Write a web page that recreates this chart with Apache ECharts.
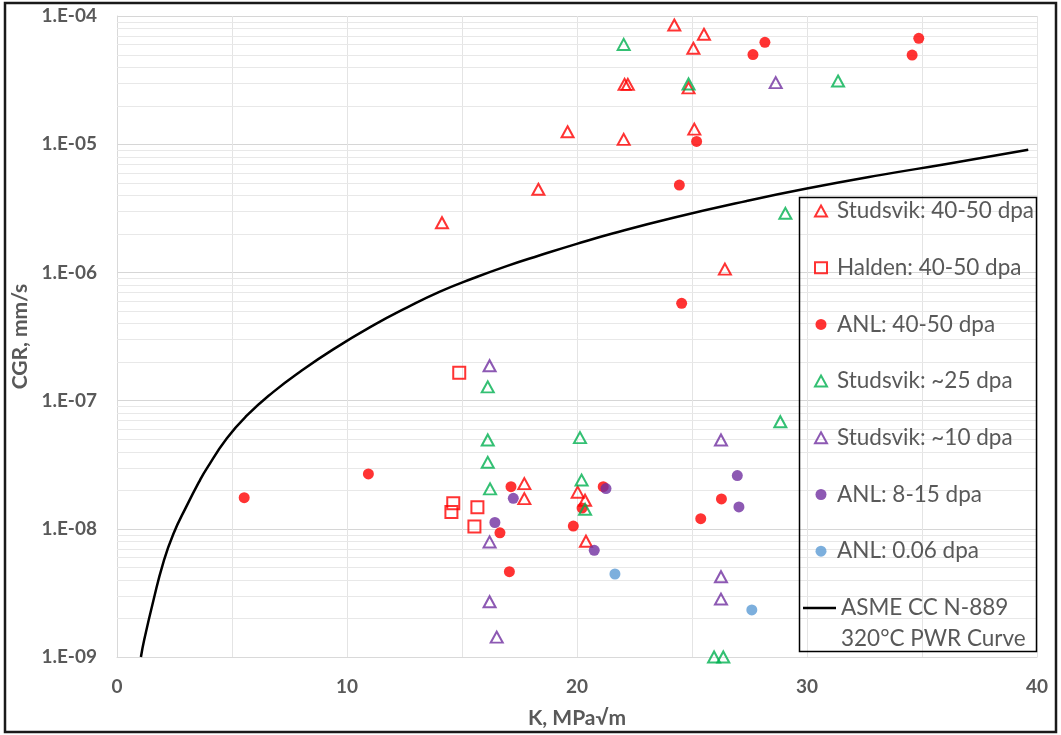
<!DOCTYPE html>
<html>
<head>
<meta charset="utf-8">
<style>
  html, body { margin: 0; padding: 0; background: #fff; }
  #chart { width: 1061px; height: 735px; }
</style>
<script src="https://cdn.jsdelivr.net/npm/echarts@6/dist/echarts.min.js"></script>
</head>
<body>
<div id="chart"></div>
<script>
// Crack growth rate (mm/s) against stress intensity K (MPa√m), pairs are [K, CGR]
const studsvik4050 = [
  [24.23, 8.5e-5], [25.52, 7.2e-5], [25.06, 5.6e-5], [22.07, 2.93e-5], [22.21, 2.93e-5],
  [24.85, 2.75e-5], [19.59, 1.25e-5], [25.10, 1.31e-5], [22.03, 1.09e-5], [18.32, 4.45e-6],
  [14.13, 2.44e-6], [26.43, 1.06e-6], [17.71, 2.25e-8], [17.71, 1.72e-8], [20.03, 1.93e-8],
  [20.35, 1.67e-8], [20.39, 8.0e-9]
];
const halden4050 = [
  [14.88, 1.65e-7], [14.62, 1.58e-8], [14.54, 1.35e-8], [15.67, 1.47e-8], [15.54, 1.04e-8]
];
const anl4050 = [
  [28.17, 6.23e-5], [27.65, 5.0e-5], [34.86, 6.7e-5], [34.57, 4.96e-5], [25.20, 1.05e-5],
  [24.45, 4.8e-6], [24.55, 5.74e-7], [5.53, 1.75e-8], [10.93, 2.68e-8], [17.13, 2.13e-8],
  [21.14, 2.13e-8], [20.22, 1.45e-8], [19.84, 1.05e-8], [16.65, 9.3e-9], [17.06, 4.63e-9],
  [26.28, 1.71e-8], [25.38, 1.2e-8]
];
const studsvik25 = [
  [22.03, 6.0e-5], [24.85, 2.95e-5], [31.35, 3.11e-5], [29.06, 2.89e-6], [16.12, 1.28e-7],
  [28.84, 6.84e-8], [16.12, 4.93e-8], [20.13, 5.14e-8], [16.12, 3.3e-8], [16.22, 2.05e-8],
  [20.20, 2.4e-8], [20.35, 1.42e-8], [25.96, 1.0e-9], [26.36, 1.0e-9]
];
const studsvik10 = [
  [28.64, 3.02e-5], [16.20, 1.87e-7], [26.26, 4.93e-8], [16.20, 7.9e-9], [16.20, 2.7e-9],
  [16.51, 1.43e-9], [26.26, 4.23e-9], [26.26, 2.83e-9]
];
const anl815 = [
  [26.97, 2.6e-8], [21.26, 2.06e-8], [17.23, 1.73e-8], [16.43, 1.12e-8], [27.04, 1.48e-8],
  [20.75, 6.8e-9]
];
const anl006 = [
  [21.65, 4.44e-9], [27.60, 2.33e-9]
];
// Disposition curve, 320°C PWR
const asmeCurve = [
  [1.04, 1.0e-9], [1.19, 1.38e-9], [1.58, 2.75e-9], [2.01, 5.43e-9], [2.45, 9.12e-9],
  [3.03, 1.51e-8], [3.61, 2.40e-8], [3.90, 2.95e-8], [4.77, 5.06e-8], [5.64, 7.62e-8],
  [6.80, 1.17e-7], [7.96, 1.68e-7], [9.40, 2.51e-7], [11.14, 3.86e-7], [12.60, 5.31e-7],
  [14.04, 7.08e-7], [15.49, 9.0e-7], [16.94, 1.12e-6], [18.39, 1.36e-6], [19.99, 1.67e-6],
  [21.58, 2.02e-6], [24.19, 2.67e-6], [27.38, 3.61e-6], [29.99, 4.51e-6], [33.17, 5.74e-6],
  [36.07, 7.01e-6], [39.62, 9.05e-6]
];

const xTickLabels = ['0', '10', '20', '30', '40'];
const yTickLabels = ['1.E-09', '1.E-08', '1.E-07', '1.E-06', '1.E-05', '1.E-04'];
const yDecades = [-9, -8, -7, -6, -5];
const yMantissas = [2, 3, 4, 5, 6, 7, 8, 9];

const seriesNames = [
  'Studsvik: 40-50 dpa', 'Halden: 40-50 dpa', 'ANL: 40-50 dpa', 'Studsvik: ~25 dpa',
  'Studsvik: ~10 dpa', 'ANL: 8-15 dpa', 'ANL: 0.06 dpa'
];
const curveName = 'ASME CC N-889 320°C PWR Curve';

const RED = '#FF0000', GREEN = '#00B050', PURPLE = '#7030A0', BLUE = '#5B9BD5';
const TEXT = '#595959';
const FONT = 'Lato, "Open Sans", sans-serif';
const X_MIN = 0, X_MAX = 40;

// minor log grid levels (2..9 within each decade)
const minorLevels = [];
yDecades.forEach(function (d) {
  yMantissas.forEach(function (m) { minorLevels.push([X_MIN, m * Math.pow(10, d)]); });
});

function hollow(name, data, symbol, color, size) {
  return {
    name: name, type: 'scatter', data: data, symbol: symbol, symbolSize: size, z: 3,
    itemStyle: { color: 'rgba(255,255,255,0)', borderColor: color, borderWidth: 2 }
  };
}
function filled(name, data, color) {
  return {
    name: name, type: 'scatter', data: data, symbol: 'circle', symbolSize: 11, z: 3,
    itemStyle: { color: color, borderWidth: 0 }
  };
}

const legendText = { color: TEXT, fontSize: 22.5, fontFamily: FONT, lineHeight: 24, padding: [0, 0, 0, 5] };

const chart = echarts.init(document.getElementById('chart'), null, { renderer: 'canvas' });
chart.setOption({
  animation: false,
  backgroundColor: '#ffffff',
  textStyle: { fontFamily: FONT },
  grid: { left: 117, right: 24, top: 16, bottom: 78, containLabel: false },
  xAxis: {
    type: 'value', min: X_MIN, max: X_MAX, interval: 5,
    name: 'K, MPa√m', nameLocation: 'middle', nameGap: 51,
    nameTextStyle: { color: TEXT, fontSize: 21, fontWeight: 'bold', fontFamily: FONT },
    axisLine: { show: true, lineStyle: { color: '#D9D9D9', width: 1 } },
    axisTick: { show: false },
    axisLabel: {
      color: TEXT, fontSize: 19, fontWeight: 'bold', fontFamily: FONT, margin: 20,
      formatter: function (v) { return v % 10 === 0 ? xTickLabels[v / 10] : ''; }
    },
    splitLine: { show: true, lineStyle: { color: '#E4E4E4', width: 1 } }
  },
  yAxis: {
    type: 'log', logBase: 10, min: 1e-9, max: 1e-4,
    name: 'CGR, mm/s', nameLocation: 'middle', nameGap: 80,
    nameTextStyle: { color: TEXT, fontSize: 21, fontWeight: 'bold', fontFamily: FONT },
    axisLine: { show: true, lineStyle: { color: '#D9D9D9', width: 1 } },
    axisTick: { show: false },
    axisLabel: {
      color: TEXT, fontSize: 19, fontWeight: 'bold', fontFamily: FONT, margin: 20,
      formatter: function (v) {
        const e = Math.round(Math.log10(v));
        return yTickLabels[e + 9] || '';
      }
    },
    splitLine: { show: true, lineStyle: { color: '#D6D6D6', width: 1 } }
  },
  legend: [
    {
      data: seriesNames, orient: 'vertical', left: 814, top: 199, padding: 0,
      itemWidth: 12, itemHeight: 11, itemGap: 32.7, symbolKeepAspect: true,
      textStyle: legendText
    },
    {
      data: [{ name: curveName, icon: 'rect' }], orient: 'vertical', left: 803, top: 561.5, padding: 0,
      itemWidth: 33, itemHeight: 2.5,
      formatter: function () { return '\nASME CC N-889\n320°C PWR Curve'; },
      textStyle: { color: TEXT, fontSize: 22.5, fontFamily: FONT, lineHeight: 31 }
    }
  ],
  graphic: [
    {
      type: 'rect', silent: true, z: 50,
      shape: { x: 799.5, y: 197.5, width: 237, height: 454 },
      style: { fill: 'none', stroke: '#000', lineWidth: 1.5 }
    },
    {
      type: 'rect', silent: true, z: 50,
      shape: { x: 5, y: 3, width: 1051, height: 729 },
      style: { fill: 'none', stroke: '#1a1a1a', lineWidth: 2.5 }
    }
  ],
  series: [
    {
      // minor horizontal grid of the log axis
      name: 'minor-grid', type: 'custom', data: minorLevels, silent: true, z: 1,
      clip: true,
      renderItem: function (params, api) {
        const v = api.value(1);
        const a = api.coord([X_MIN, v]);
        const b = api.coord([X_MAX, v]);
        return {
          type: 'line',
          shape: { x1: a[0], y1: Math.round(a[1]) + 0.5, x2: b[0], y2: Math.round(b[1]) + 0.5 },
          style: { stroke: '#E8E8E8', lineWidth: 1 }
        };
      }
    },
    hollow(seriesNames[0], studsvik4050, 'triangle', RED, [12, 11]),
    hollow(seriesNames[1], halden4050, 'rect', RED, 12),
    filled(seriesNames[2], anl4050, RED),
    hollow(seriesNames[3], studsvik25, 'triangle', GREEN, [12, 11]),
    hollow(seriesNames[4], studsvik10, 'triangle', PURPLE, [12, 11]),
    filled(seriesNames[5], anl815, PURPLE),
    filled(seriesNames[6], anl006, BLUE),
    {
      name: curveName, type: 'line', data: asmeCurve, smooth: 0.5, z: 4,
      symbol: 'none', showSymbol: false,
      lineStyle: { color: '#000', width: 2.5 },
      itemStyle: { color: '#000' }
    }
  ]
});
</script>
</body>
</html>
